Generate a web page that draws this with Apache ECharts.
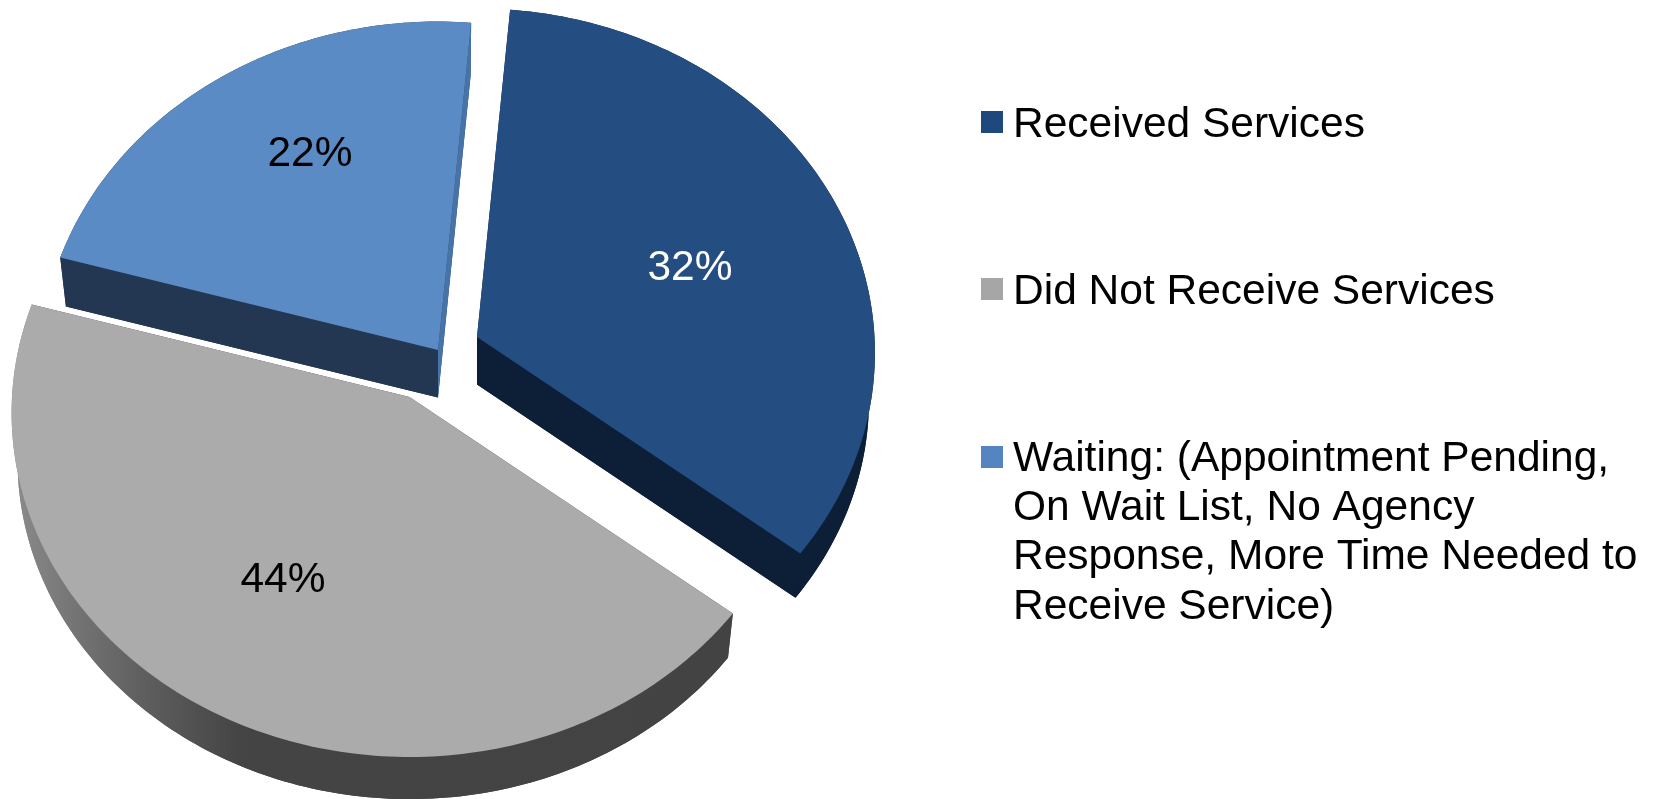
<!DOCTYPE html>
<html>
<head>
<meta charset="utf-8">
<style>html,body{margin:0;padding:0;background:#fff}#chart{width:1655px;height:799px}</style>
<script src="https://cdn.jsdelivr.net/npm/echarts@6/dist/echarts.min.js"></script>
</head>
<body>
<div id="chart"></div>
<script>
// Data
const categories = ['Received Services', 'Did Not Receive Services', 'Waiting: (Appointment Pending,\nOn Wait List, No Agency\nResponse, More Time Needed to\nReceive Service)'];
const printedPercent = [32, 44, 22];   // the labels, as printed
const wedgeShare = [34.1, 43.9, 22];   // the size of each wedge, as measured on the drawing

// Layout and style
const FONT = '"Liberation Sans", Arial, sans-serif';
const startDeg = 5, R = 397.5, A = 343.5, K = 0.0458, DEPTH = 47.5, BOTTOM_SCALE = 0.985;
const apex = [[477, 337], [409.5, 397], [438, 350]];
const labelAt = [[690, 268.5], [283, 580.5], [310, 154.5]];
const labelColor = ['#ffffff', '#000000', '#000000'];
const topColor = ['#244D81', '#ABABAB', '#5B8BC5'];
const legendColor = ['#1F497D', '#A6A6A6', '#5585C0'];
const greySide = { type: 'linear', x: 0, y: 0, x2: 1, y2: 0, colorStops: [
  { offset: 0, color: '#8c8c8c' }, { offset: 0.08, color: '#767676' }, { offset: 0.18, color: '#5f5f5f' },
  { offset: 0.32, color: '#444444' }, { offset: 1, color: '#434343' }] };
const rimColor = ['#0D1E37', greySide, '#243752'];
const startFace = ['#0D1E37', '#434343', '#243752'];
const endFace = ['#0D1E37', '#434343', '#4673A8'];

const totalShare = wedgeShare.reduce((a, b) => a + b, 0);

function project(deg) {
  const t = deg * Math.PI / 180, u = Math.sin(t), v = -Math.cos(t), w = 1 - K * v;
  return [R * u / w, A * v / w];
}
function wedgeRange(i) {
  let s = startDeg;
  for (let j = 0; j < i; j++) s += wedgeShare[j] / totalShare * 360;
  return [s, s + wedgeShare[i] / totalShare * 360];
}
function renderWedge(params) {
  const i = params.seriesIndex, [s, e] = wedgeRange(i), [ax, ay] = apex[i];
  const top = [], low = [];
  for (let d = s; ; d += 1) {
    const a = Math.min(d, e), p = project(a);
    top.push([ax + p[0], ay + p[1]]);
    low.push([ax + p[0] * BOTTOM_SCALE, ay + DEPTH + p[1] * BOTTOM_SCALE]);
    if (d >= e) break;
  }
  const A0 = [ax, ay], B0 = [ax, ay + DEPTH];
  const poly = (points, fill) => ({ type: 'polygon', silent: true, shape: { points }, style: { fill } });
  return {
    type: 'group',
    children: [
      poly([B0].concat(low), rimColor[i]),
      poly(top.concat(low.slice().reverse()), rimColor[i]),
      poly([A0, top[0], low[0], B0], startFace[i]),
      poly([A0, top[top.length - 1], low[low.length - 1], B0], endFace[i]),
      poly([A0].concat(top), topColor[i]),
      { type: 'text', silent: true, style: {
        text: printedPercent[i] + '%', x: labelAt[i][0], y: labelAt[i][1],
        fill: labelColor[i], font: '42.5px ' + FONT, align: 'center', verticalAlign: 'middle' } }
    ]
  };
}

const textStyle = { fontFamily: FONT, fontSize: 42.5, lineHeight: 49.2, color: '#000000', padding: [0, 0, 0, 5] };
const legendBase = { orient: 'vertical', padding: 0, itemGap: 0, selectedMode: false, itemWidth: 22, textStyle };
const shortIcon = 'path://M0 0H22V22H0ZM22 28L22 28';

const chart = echarts.init(document.getElementById('chart'), null, { renderer: 'canvas' });
chart.setOption({
  animation: false,
  backgroundColor: '#ffffff',
  legend: [
    Object.assign({}, legendBase, { left: 981, top: 100.4, itemHeight: 28, icon: shortIcon, data: [categories[0]], itemStyle: { color: legendColor[0], borderWidth: 0 } }),
    Object.assign({}, legendBase, { left: 981, top: 267.4, itemHeight: 28, icon: shortIcon, data: [categories[1]], itemStyle: { color: legendColor[1], borderWidth: 0 } }),
    Object.assign({}, legendBase, { left: 981, top: 434.6, itemHeight: 196, icon: 'path://M0 0L0 0M0 11H22V33H0ZM22 196L22 196', data: [categories[2]], itemStyle: { color: legendColor[2], borderWidth: 0 } })
  ],
  series: categories.map((name, i) => ({
    type: 'custom',
    name,
    coordinateSystem: 'none',
    itemStyle: { color: legendColor[i] },
    renderItem: renderWedge,
    data: [[wedgeShare[i]]]
  }))
});
</script>
</body>
</html>
